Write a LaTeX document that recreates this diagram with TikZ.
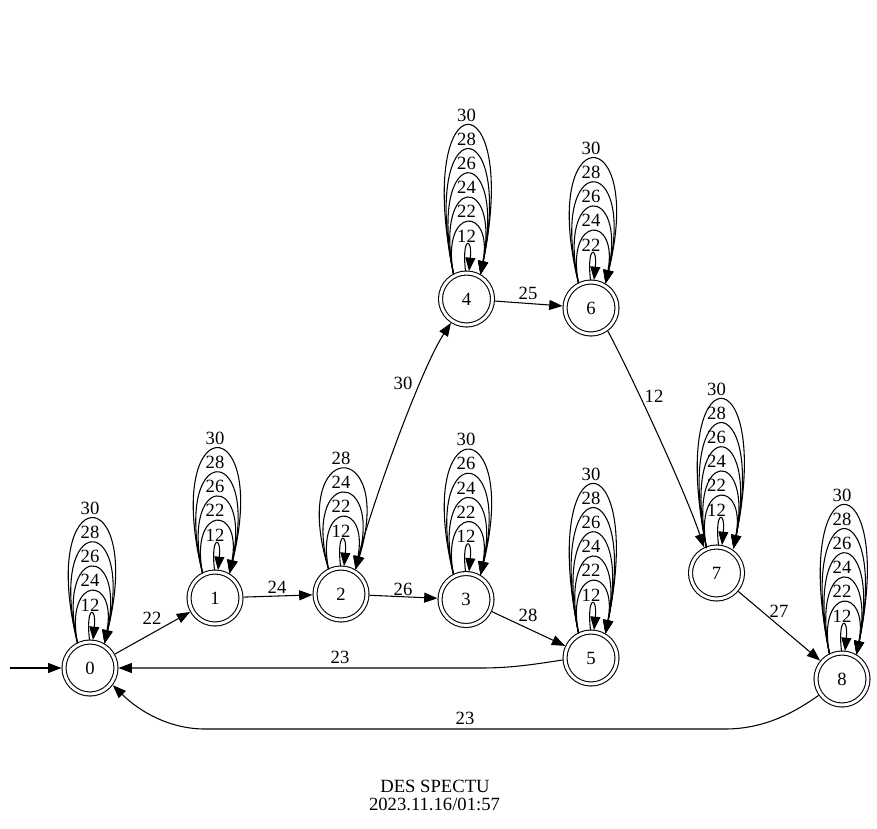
\documentclass[tikz,border=0pt]{standalone}
\usepackage{fontspec}
\setmainfont{Liberation Serif}
\usetikzlibrary{arrows.meta,calc}
\tikzset{
  st/.style={circle, draw, double, double distance=2.2pt, minimum size=39pt, inner sep=0pt, outer sep=1.9pt, font=\fontsize{14pt}{16pt}\selectfont},
  lbl/.style={font=\fontsize{14pt}{16pt}\selectfont, inner sep=0pt},
  edge/.style={-{Triangle[length=10pt,width=7.5pt]}},
}
\newcommand{\selfloops}[4]{%
 \begin{scope}[shift={(#1.center)}, xshift=#4*0.75pt]
  \foreach \lab [count=\i] in {#2} {
    \pgfmathsetmacro{\ly}{-(63+24.2*(\i-1))}
    \node[lbl] (#1l\i) at ({-#4},\ly) {\lab};
    \ifnum\i=1
      \draw[edge] (-1,-28) .. controls (-5,-62.7) and (6,-62.7) .. (2.5,-28);
    \else
      \pgfmathsetmacro{\W}{14+8*(\i-2)/(#3-2)}
      \pgfmathsetmacro{\a}{(\W-10.2)/0.29}
      \pgfmathsetmacro{\yc}{-((52.1+24.2*(\i-1)) - 6.25)/0.75}
      \draw[edge] (-13,-25) .. controls ({-13-\a},\yc) and ({14+\a},\yc) .. (14,-24.5);
    \fi
  }
 \end{scope}}
\begin{document}
\begin{tikzpicture}[x=0.75pt,y=-0.75pt,line width=0.8pt]
\useasboundingbox (0,0) rectangle (877,828);
\node[st] (n0) at (90,668) {0};
\node[st] (n1) at (215,598) {1};
\node[st] (n2) at (341,594) {2};
\node[st] (n3) at (466,599.5) {3};
\node[st] (n4) at (466.5,299) {4};
\node[st] (n5) at (591,658) {5};
\node[st] (n6) at (591,308) {6};
\node[st] (n7) at (716.5,573) {7};
\node[st] (n8) at (842,679) {8};

\selfloops{n0}{12,24,26,28,30}{5}{0.5}
\selfloops{n1}{12,22,26,28,30}{5}{0.5}
\selfloops{n2}{12,22,24,28}{4}{0.5}
\selfloops{n3}{12,22,24,26,30}{5}{0.5}
\selfloops{n4}{12,22,24,26,28,30}{6}{0}
\selfloops{n5}{12,22,24,26,28,30}{6}{0.5}
\selfloops{n6}{22,24,26,28,30}{5}{0.5}
\selfloops{n7}{12,22,24,26,28,30}{6}{3}
\selfloops{n8}{12,22,24,26,28,30}{6}{0.5}

\coordinate (init) at (10,668);
\draw[edge] (init) -- (n0);
\draw[edge] (n0) -- (n1);
\draw[edge] (n1) -- (n2);
\draw[edge] (n2) -- (n3);
\draw[edge] (n3) -- (n5);
\draw[edge] (n4) -- (n6);
\draw[edge] (n7) -- (n8);
\draw[edge] (n5.184) .. controls (530,665) and (510,668) .. (480,668) -- (n0);
\draw[edge] (n8.215) .. controls (795,712) and (765,729) .. (725,729) -- (205,729) .. controls (170,729) and (140,712) .. (n0.323);
\draw[edge] (n2.60) .. controls (366,520) and (420,370) .. (n4.237);
\draw[edge] (n6.306) .. controls (625,362) and (685,490) .. (n7.116);

\node[lbl] (e01) at (152,618) {22};
\node[lbl] (e12) at (277,587) {24};
\node[lbl] (e23) at (403,589) {26};
\node[lbl] (e35) at (528,615) {28};
\node[lbl] (e50) at (340,657) {23};
\node[lbl] (e80) at (465,718) {23};
\node[lbl] (e24) at (403,383) {30};
\node[lbl] (e46) at (528,293) {25};
\node[lbl] (e67) at (654,396) {12};
\node[lbl] (e78) at (779,611) {27};

\node[lbl] (title) at (435,786) {DES SPECTU};
\node[lbl] (date) at (434.5,804) {2023.11.16/01:57};
\end{tikzpicture}
\end{document}
